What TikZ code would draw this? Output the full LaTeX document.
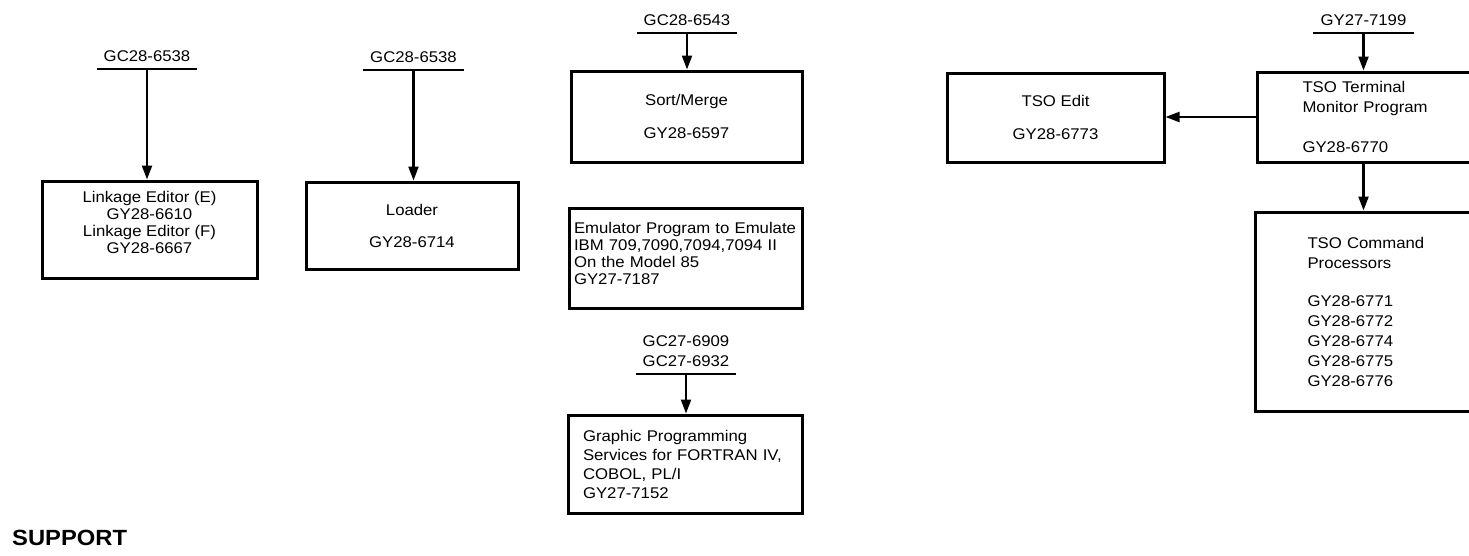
\documentclass[tikz,border=0pt]{standalone}
\usepackage{fontspec}
\newfontfamily\ibmfont{Liberation Sans}[FakeStretch=1.08]
\usetikzlibrary{arrows.meta}

\begin{document}
\begin{tikzpicture}[x=1pt,y=-1pt,
    linegap/.style={font=\ibmfont\fontsize{15.5}{#1}\selectfont},
    box/.style={draw,line width=3pt,inner sep=0pt,align=center,linegap=17pt},
    listbox/.style={draw,line width=3pt,inner ysep=0pt,align=left,linegap=17pt},
    doc/.style={anchor=south,minimum width=100pt,inner xsep=0pt,inner ysep=7pt,align=center,linegap=20pt},
    bar/.style={line width=2pt},
    feed/.style={line width=2.2pt,-{Triangle[length=14pt,width=10pt]}}]
  \useasboundingbox (0,0) rectangle (1469,555);

  % Linkage editor
  \node[box,minimum width=215pt,minimum height=97pt] (link) at (149.5,229.5)
    {Linkage Editor (E)\\GY28-6610\\Linkage Editor (F)\\GY28-6667\\[-3pt]\mbox{}};
  \node[doc] (linkdoc) at (147,69) {GC28-6538};
  \draw[bar] (linkdoc.south west) -- (linkdoc.south east);
  \draw[feed] (linkdoc.south) -- (linkdoc.south |- link.north);

  % Loader
  \node[box,minimum width=212pt,minimum height=87pt] (load) at (412,225.5)
    {Loader\\[15pt]GY28-6714};
  \node[doc] (loaddoc) at (413.5,70) {GC28-6538};
  \draw[bar] (loaddoc.south west) -- (loaddoc.south east);
  \draw[feed] (loaddoc.south) -- (loaddoc.south |- load.north);

  % Sort/Merge
  \node[box,minimum width=231pt,minimum height=91pt] (sort) at (686.5,116.5)
    {Sort/Merge\\[16pt]GY28-6597};
  \node[doc] (sortdoc) at (687,33) {GC28-6543};
  \draw[bar] (sortdoc.south west) -- (sortdoc.south east);
  \draw[feed] (sortdoc.south) -- (sortdoc.south |- sort.north);

  % Emulator
  \node[listbox,inner xsep=5pt,text width=223pt,minimum height=100pt] (emu) at (685.5,258)
    {Emulator Program to Emulate\\IBM 709,7090,7094,7094 II\\On the Model 85\\GY27-7187\\[-8pt]\mbox{}};

  % Graphic programming services
  \node[listbox,inner xsep=15pt,text width=204pt,minimum height=98pt,linegap=19pt] (gps) at (685,464)
    {Graphic Programming\\Services for FORTRAN IV,\\COBOL, PL/I\\GY27-7152};
  \node[doc] (gpsdoc) at (686,374) {GC27-6909\\GC27-6932};
  \draw[bar] (gpsdoc.south west) -- (gpsdoc.south east);
  \draw[feed] (gpsdoc.south) -- (gpsdoc.south |- gps.north);

  % TSO
  \node[box,minimum width=217pt,minimum height=89pt] (edit) at (1055.5,117.5)
    {TSO Edit\\[16pt]GY28-6773};
  \node[listbox,anchor=west,inner xsep=45pt,text width=154pt,minimum height=90pt,linegap=20pt] (tmp) at (1256,117)
    {TSO Terminal\\Monitor Program\\[20pt]GY28-6770};
  \node[doc] (tmpdoc) at (1363.5,33) {GY27-7199};
  \node[listbox,anchor=west,inner xsep=52pt,text width=142pt,minimum height=199pt,linegap=20pt] (cmd) at (1254,311.5)
    {TSO Command\\Processors\\[18pt]GY28-6771\\GY28-6772\\GY28-6774\\GY28-6775\\GY28-6776};
  \draw[bar] (tmpdoc.south west) -- (tmpdoc.south east);
  \draw[feed] (tmpdoc.south) -- (tmpdoc.south |- tmp.north);
  \draw[feed] (tmp.west) -- (tmp.west -| edit.east);
  \draw[feed] (tmp.south -| tmpdoc.south) -- (tmpdoc.south |- cmd.north);

  % Title
  \node[anchor=base west,inner sep=0pt,font=\ibmfont\bfseries\fontsize{22}{26}\selectfont] (title) at (12,545) {SUPPORT};
\end{tikzpicture}
\end{document}
